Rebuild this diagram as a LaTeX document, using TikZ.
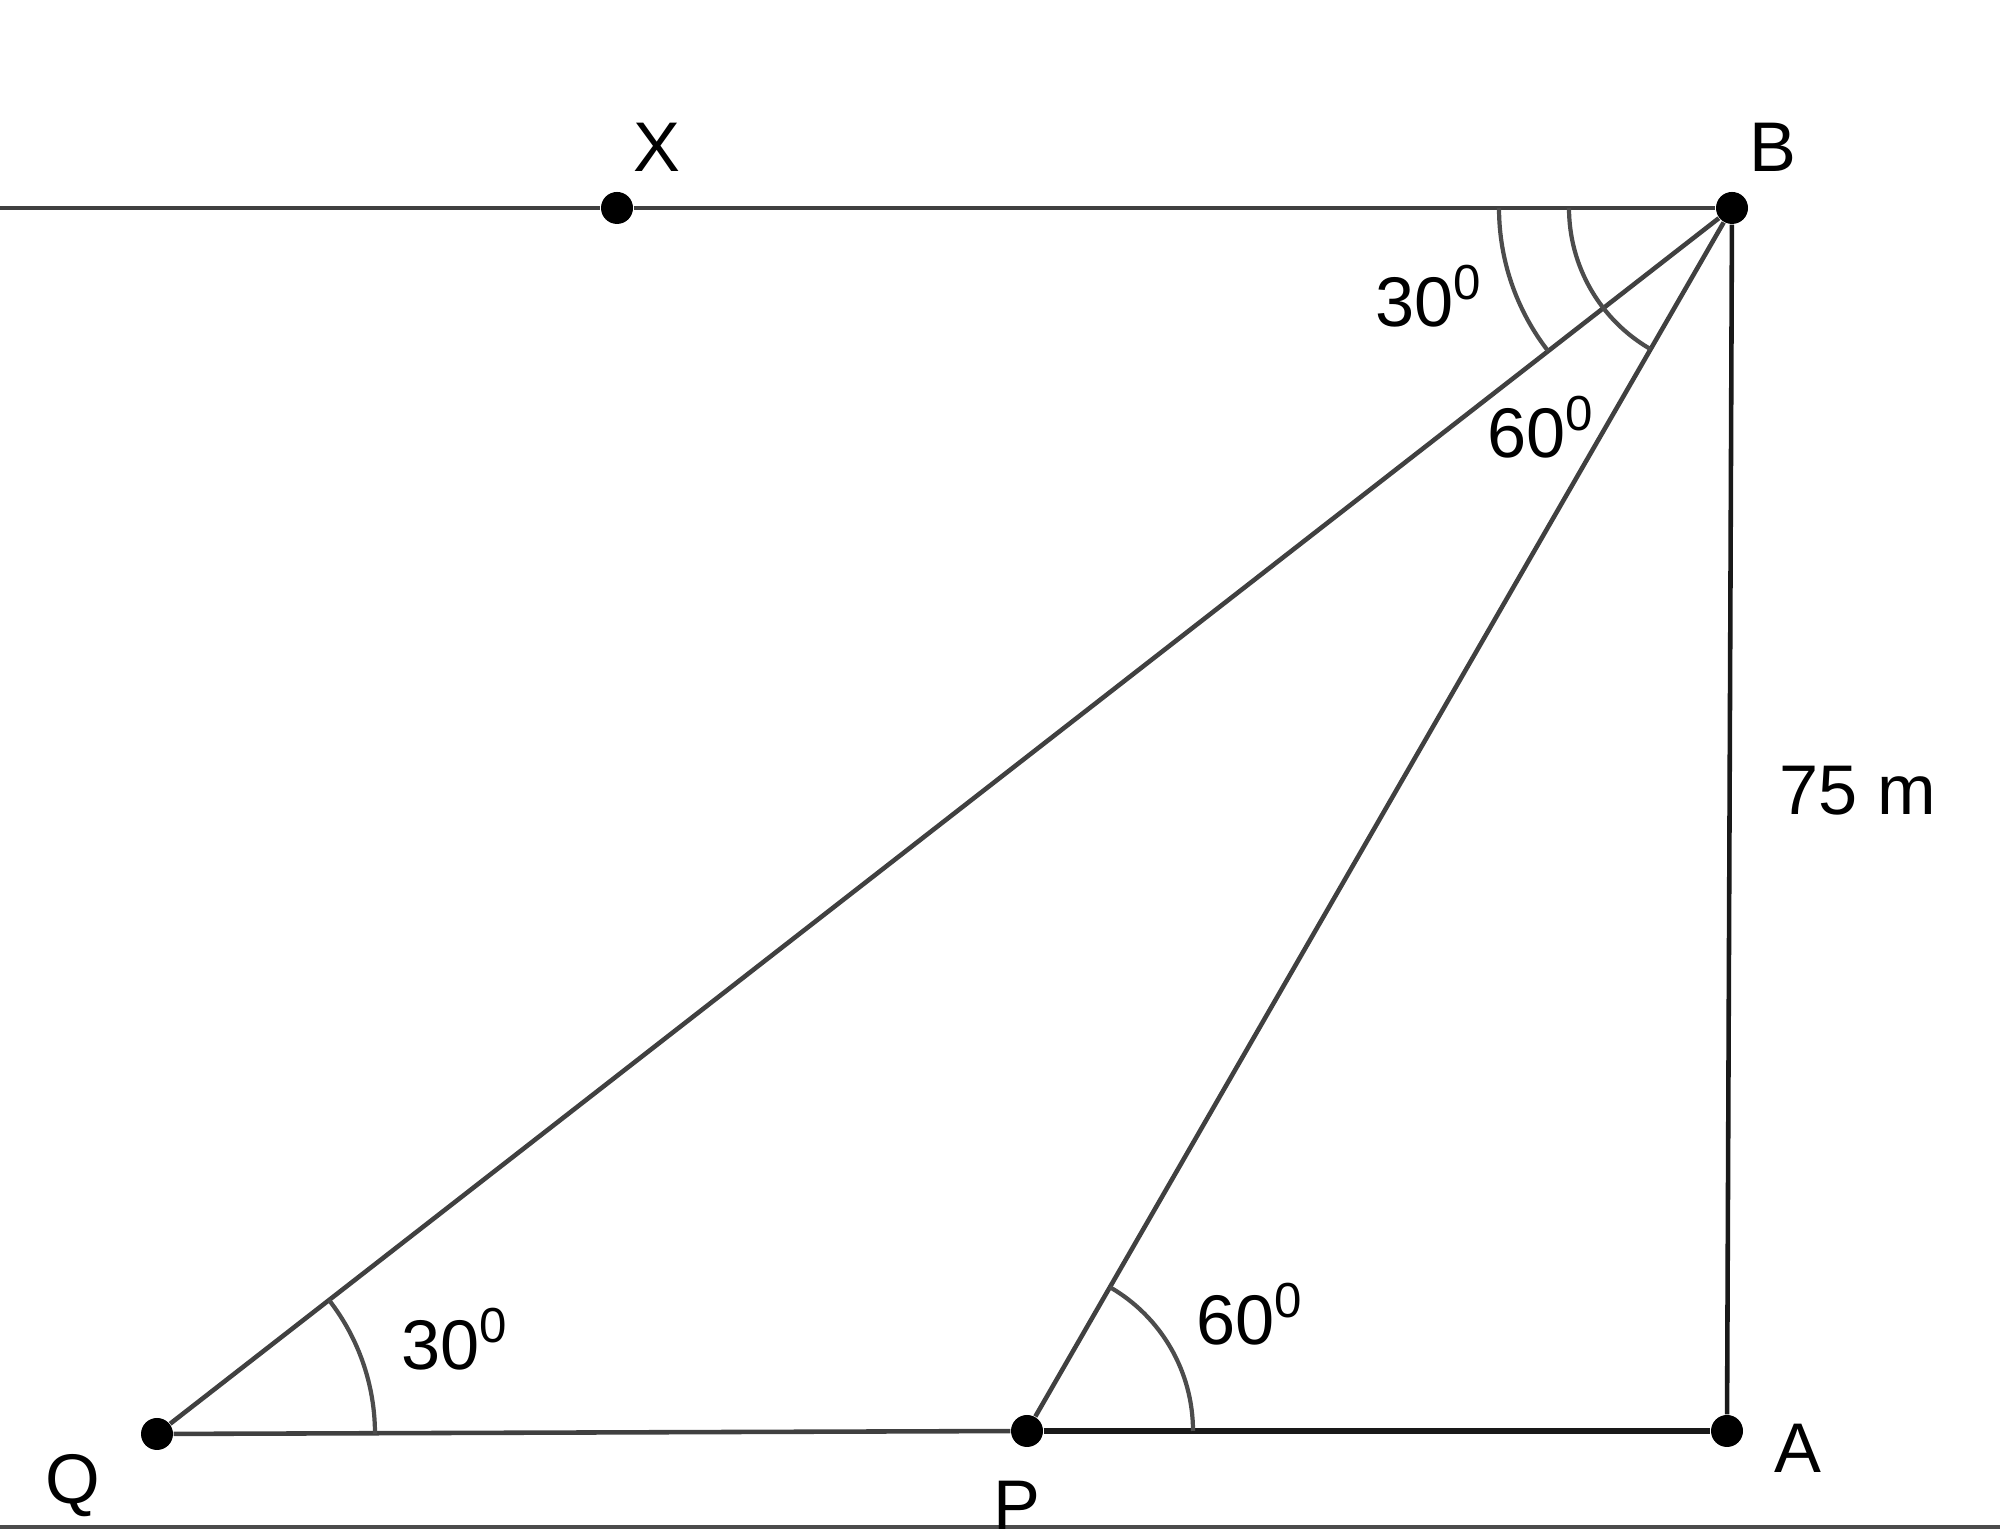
\documentclass[tikz,border=0pt]{standalone}
\usepackage{fontspec}
\setmainfont{Liberation Sans}
\usepackage{tikz}
\usetikzlibrary{positioning}

\begin{document}
\begin{tikzpicture}[
  dot/.style={circle, fill=black, inner sep=0pt, minimum size=0.32cm},
  lbl/.style={font=\fontsize{20}{24}\selectfont, inner sep=0pt},
  seg/.style={draw=black!75, line width=1.3pt},
  arcmark/.style={draw=black!70, line width=1.2pt}
]
\useasboundingbox (0,0) rectangle (20,15.34);

% points
\node[dot] (B) at (17.32,13.26) {};
\node[dot] (X) at (6.17,13.26) {};
\node[dot] (A) at (17.27,1.03) {};
\node[dot] (P) at (10.27,1.03) {};
\node[dot] (Q) at (1.57,1.00) {};
\coordinate (left) at (0,13.26);
\coordinate (gl) at (0,0.07);
\coordinate (gr) at (20,0.07);

% lines
\draw[seg] (left) -- (X) -- (B);
\draw[seg, draw=black!90] (B) -- (A);
\draw[seg] (Q) -- (P);
\draw[seg, draw=black!90, line width=1.6pt] (P) -- (A);
\draw[seg] (Q) -- (B);
\draw[seg] (P) -- (B);
\draw[draw=black!70, line width=0.9pt] (gl) -- (gr);

% angle marks
\draw[arcmark] ([shift={(180:2.33)}]B.center) arc (180:217.9:2.33);
\draw[arcmark] ([shift={(180:1.63)}]B.center) arc (180:240:1.63);
\draw[arcmark] ([shift={(0:2.18)}]Q.center) arc (0:37.9:2.18);
\draw[arcmark] ([shift={(0:1.66)}]P.center) arc (0:60:1.66);

% labels
\node[lbl] (labX) at (6.57,13.87) {X};
\node[lbl] (labB) at (17.73,13.87) {B};
\node[lbl] (labA) at (17.98,0.86) {A};
\node[lbl] (labP) at (10.17,0.29) {P};
\node[lbl] (labQ) at (0.73,0.48) {Q};
\node[lbl] (height) at (18.58,7.43) {75 m};
\node[lbl] (angB1) at (14.29,12.38) {30\textsuperscript{0}};
\node[lbl] (angB2) at (15.41,11.07) {60\textsuperscript{0}};
\node[lbl] (angQ) at (4.55,1.95) {30\textsuperscript{0}};
\node[lbl] (angP) at (12.50,2.20) {60\textsuperscript{0}};
\end{tikzpicture}
\end{document}
